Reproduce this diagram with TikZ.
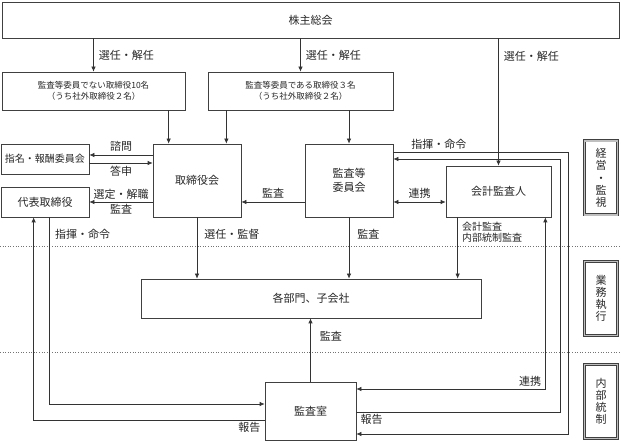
\documentclass[tikz,border=0pt]{standalone}
\usepackage{fontspec}
\setmainfont{Noto Sans CJK JP}
\usetikzlibrary{arrows.meta,positioning}

\begin{document}
\begin{tikzpicture}
                [x=1pt, y=-1pt,
                  line width=0.7pt,
                  every node/.style={font=\fontsize{11}{14}\selectfont, text=black!85},
                  box/.style={draw=black!75, align=center, inner sep=1pt},
                  small/.style={font=\fontsize{8.5}{11}\selectfont},
                  lbl/.style={inner sep=1pt},
                  arr/.style={draw=black!80, -{Latex[length=5pt,width=4.5pt]}},
                  both/.style={draw=black!80, {Latex[length=5pt,width=4.5pt]}-{Latex[length=5pt,width=4.5pt]}},
                  side/.style={draw=black!75, double=black!25, double distance=1.6pt, line width=0.7pt,
                    minimum width=33, minimum height=74, align=center,
                    font=\fontsize{11}{12.2}\selectfont},
                  sep/.style={draw=black!55, dotted, line width=0.6pt},
                ]
  \useasboundingbox (0,0) rectangle (621,443);

  % boxes
  \node[box, minimum width=617, minimum height=36] (soukai) at (310.5,20) {株主総会};
  \node[box, small, minimum width=183, minimum height=38] (hitoiin) at (93.5,91)
    {監査等委員でない取締役10名\\（うち社外取締役２名）};
  \node[box, small, minimum width=185, minimum height=38] (iin) at (300.5,91)
    {監査等委員である取締役３名\\（うち社外取締役２名）};
  \node[box, minimum width=88, minimum height=30, font=\fontsize{10}{12}\selectfont] (shimei) at (45,159) {指名・報酬委員会};
  \node[box, minimum width=88, minimum height=30] (daihyo) at (45,202) {代表取締役};
  \node[box, minimum width=88, minimum height=73] (torikai) at (197,180.5) {取締役会};
  \node[box, minimum width=88, minimum height=73] (kansakai) at (349,180.5) {監査等\\委員会};
  \node[box, minimum width=105, minimum height=51] (kaikei) at (498.5,191.5) {会計監査人};
  \node[box, minimum width=340, minimum height=39] (bumon) at (311,298.5) {各部門、子会社};
  \node[box, minimum width=91, minimum height=58] (kansashitsu) at (310.5,411) {監査室};

  % side labels
  \node[side] (keiei) at (601,178) {経\\営\\・\\監\\視};
  \node[side] (gyomu) at (601,298.5) {業\\務\\執\\行};
  \node[side] (naibu) at (601,401.5) {内\\部\\統\\制};

  % separators
  \draw[sep] (0,246) -- (621,246);
  \draw[sep] (0,352) -- (621,352);

  % from shareholders
  \draw[arr] (soukai.south -| hitoiin.north) -- node[lbl, right=4pt] {選任・解任} (hitoiin.north);
  \draw[arr] (soukai.south -| iin.north) -- node[lbl, right=4pt] {選任・解任} (iin.north);
  \draw[arr] (soukai.south -| kaikei.north) -- node[lbl, pos=0.14, right=4pt] {選任・解任} (kaikei.north);

  % directors
  \draw[arr] ([xshift=16]torikai.north west |- hitoiin.south) -- ([xshift=16]torikai.north west);
  \draw[arr] ([xshift=-15]torikai.north east |- iin.south) -- ([xshift=-15]torikai.north east);
  \draw[arr] (iin.south -| kansakai.north) -- (kansakai.north);

  \draw[arr] ([yshift=4]shimei.east -| torikai.west) -- node[lbl, above=2pt] {諮問} ([yshift=4]shimei.east);
  \draw[arr] ([yshift=-4]shimei.east) -- node[lbl, below=2pt] {答申} ([yshift=-4]shimei.east -| torikai.west);
  \draw[arr] (daihyo.east -| torikai.west) -- node[lbl, above=1pt] {選定・解職}
    node[lbl, below=1pt] {監査} (daihyo.east);
  \draw[arr] (daihyo.east -| kansakai.west) -- node[lbl, above=2pt] {監査} (daihyo.east -| torikai.east);
  \draw[both] (daihyo.east -| kansakai.east) -- node[lbl, above=2pt] {連携} (daihyo.east -| kaikei.west);

  % down to divisions
  \draw[arr] (torikai.south) -- node[lbl, pos=0.27, right=6pt] {選任・監督} (torikai.south |- bumon.north);
  \draw[arr] (kansakai.south) -- node[lbl, pos=0.27, right=7pt] {監査} (kansakai.south |- bumon.north);
  \draw[arr] ([xshift=12]kaikei.south west) -- node[lbl, pos=0.24, right=3pt, align=left,
    font=\fontsize{10}{10.6}\selectfont] {会計監査\\内部統制監査} ([xshift=12]kaikei.south west |- bumon.north);
  \draw[arr] (kansashitsu.north) -- node[lbl, pos=0.72, right=8pt] {監査} (kansashitsu.north |- bumon.south);

  % internal audit office
  \draw[arr] ([xshift=49]daihyo.south west) |- node[lbl, pos=0.045, right=4pt] {指揮・命令}
    ([yshift=7]kansashitsu.west);
  \draw[arr] ([yshift=-9]kansashitsu.west) -| node[lbl, pos=0, below left=1pt and 3pt] {報告}
    ([xshift=33]daihyo.south west);
  \draw[both] ([xshift=-6]kaikei.south east) |- node[lbl, pos=0.5, above left=1pt and 3pt] {連携}
    ([yshift=22]kansashitsu.east);
  \draw[arr] ([yshift=-1]kansashitsu.east) -- node[lbl, pos=0, below right=1pt and 3pt] {報告}
    ++(204,0) |- ([yshift=21.5]kansakai.east);
  \draw[arr] ([yshift=28.5]kansakai.east) -- node[lbl, pos=0.26, above=1pt] {指揮・命令}
    ++(175,0) |- ([yshift=-23]kansashitsu.east);
\end{tikzpicture}
\end{document}
